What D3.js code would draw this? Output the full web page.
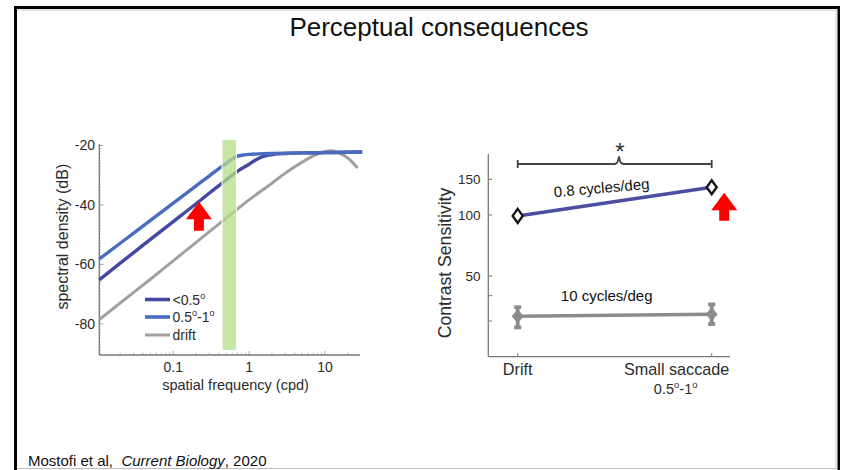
<!DOCTYPE html>
<html>
<head>
<meta charset="utf-8">
<script src="https://cdn.jsdelivr.net/npm/d3@7"></script>
<style>
  html, body { margin: 0; padding: 0; background: #fff; }
  svg { display: block; font-family: "Liberation Sans", Arial, sans-serif; }
</style>
</head>
<body>
<svg id="fig" width="846" height="470"></svg>
<script>
// ---- Spectral density panel (left) ----
const freqFast = [0.0106, 0.02, 0.05, 0.1, 0.2, 0.3, 0.4, 0.5, 0.6, 0.7, 0.85, 1, 1.5, 2, 3, 5, 10, 20, 31];
const dbFast   = [-58.2, -52.9, -45.2, -39.4, -33.6, -30.2, -27.8, -26.0, -24.6, -23.6, -23.2, -23.0, -22.8, -22.7, -22.6, -22.5, -22.4, -22.3, -22.2];
const freqSlow = [0.0106, 0.02, 0.05, 0.1, 0.2, 0.3, 0.5, 0.7, 1, 1.2, 1.5, 1.8, 2.2, 3, 5, 10, 20, 31];
const dbSlow   = [-65.2, -59.6, -51.6, -45.6, -39.6, -36.0, -31.6, -28.7, -26.3, -25.0, -23.8, -23.2, -22.9, -22.7, -22.5, -22.4, -22.3, -22.2];
const freqDrift = [0.0106, 0.02, 0.05, 0.1, 0.2, 0.3, 0.5, 0.7, 1, 1.5, 2, 3, 5, 7, 10, 12, 15, 20, 27];
const dbDrift   = [-78.6, -73.0, -65.0, -58.8, -52.6, -49.0, -44.4, -41.4, -38.3, -35.0, -32.7, -29.3, -25.6, -23.5, -22.0, -21.8, -22.4, -24.2, -27.6];
const legendLabels = ["<0.5", "0.5", "drift"];
const dbTicks = [-20, -40, -60, -80];
const freqTicks = [0.1, 1, 10];
const bandRange = [0.44, 0.68];          // highlighted frequency band (cpd)

// ---- Contrast sensitivity panel (right) ----
const conditions = ["Drift", "Small saccade"];
const sensLow  = [99, 137];               // 0.8 cycles/deg
const sensHigh = [31.7, 32.4];            // 10 cycles/deg
const sensHighLo = [27.9, 29.0];
const sensHighHi = [35.1, 36.2];
const csTicks = [30, 40, 50, 100, 150];
const csLabels = [50, 100, 150];

const svg = d3.select("#fig");
const TXT = "#2b2b2b";

// page frame
svg.append("rect").attr("x", 14).attr("y", 6).attr("width", 3).attr("height", 464).attr("fill", "#000");
svg.append("rect").attr("x", 14).attr("y", 6).attr("width", 826).attr("height", 3).attr("fill", "#000");
svg.append("rect").attr("x", 837.5).attr("y", 6).attr("width", 2.5).attr("height", 464).attr("fill", "#000");
svg.append("line").attr("x1", 17).attr("x2", 837).attr("y1", 10).attr("y2", 10).attr("stroke", "#d0d0d0");
svg.append("line").attr("x1", 836).attr("x2", 836).attr("y1", 10).attr("y2", 469).attr("stroke", "#d0d0d0");
svg.append("line").attr("x1", 17).attr("x2", 837).attr("y1", 468.5).attr("y2", 468.5).attr("stroke", "#bdbdbd");

// title
svg.append("text").attr("x", 439).attr("y", 36).attr("text-anchor", "middle")
  .attr("font-size", 26).attr("fill", "#111").text("Perceptual consequences");

// citation
const cite = svg.append("text").attr("x", 28).attr("y", 466).attr("font-size", 15).attr("fill", "#111")
  .style("white-space", "pre");
cite.append("tspan").text("Mostofi et al,  ");
cite.append("tspan").attr("font-style", "italic").text("Current Biology");
cite.append("tspan").text(", 2020");

function upArrow(g, cx, tipY, totalH) {
  const headW = 26, headH = 17.5, shaftW = 10;
  const pts = [
    [cx, tipY], [cx + headW / 2, tipY + headH], [cx + shaftW / 2, tipY + headH],
    [cx + shaftW / 2, tipY + totalH], [cx - shaftW / 2, tipY + totalH],
    [cx - shaftW / 2, tipY + headH], [cx - headW / 2, tipY + headH]
  ];
  g.append("path").attr("d", d3.line()(pts) + "Z").attr("fill", "#ff0000");
}

// ================= left panel =================
const xL = d3.scaleLog().domain([0.0106, 29]).range([99.3, 360]);
const yL = d3.scaleLinear().domain([-90.5, -19.5]).range([355, 144]);
const L = svg.append("g");
const axisCol = "#777";

// minor ticks on dB axis
L.append("g").selectAll("line").data(d3.range(-90, -19, 1)).join("line")
  .attr("x1", xL.range()[0]).attr("x2", xL.range()[0] + 1.8)
  .attr("y1", d => yL(d)).attr("y2", d => yL(d))
  .attr("stroke", "#b5b5b5").attr("stroke-width", 0.7);
// minor ticks on frequency axis
const minorF = [];
[0.01, 0.1, 1, 10].forEach(dec => d3.range(1, 10).forEach(k => {
  const v = dec * k;
  if (v >= xL.domain()[0] && v <= xL.domain()[1]) minorF.push(v);
}));
L.append("g").selectAll("line").data(minorF).join("line")
  .attr("x1", d => xL(d)).attr("x2", d => xL(d))
  .attr("y1", yL.range()[0]).attr("y2", d => yL.range()[0] - (freqTicks.includes(d) ? 4 : 2.2))
  .attr("stroke", "#999").attr("stroke-width", 0.8);
L.append("g").selectAll("line").data(dbTicks).join("line")
  .attr("x1", xL.range()[0]).attr("x2", xL.range()[0] + 4)
  .attr("y1", d => yL(d)).attr("y2", d => yL(d))
  .attr("stroke", "#888").attr("stroke-width", 0.8);

L.append("line").attr("x1", xL.range()[0]).attr("x2", xL.range()[0])
  .attr("y1", yL.range()[1]).attr("y2", yL.range()[0]).attr("stroke", axisCol).attr("stroke-width", 1.3);
L.append("line").attr("x1", xL.range()[0]).attr("x2", xL.range()[1])
  .attr("y1", yL.range()[0]).attr("y2", yL.range()[0]).attr("stroke", axisCol).attr("stroke-width", 1.3);

L.append("g").selectAll("text").data(dbTicks).join("text")
  .attr("x", 95).attr("y", d => yL(d) + 5).attr("text-anchor", "end")
  .attr("font-size", 14).attr("fill", TXT).text(d => d);
L.append("g").selectAll("text").data(freqTicks).join("text")
  .attr("x", d => xL(d)).attr("y", 372).attr("text-anchor", "middle")
  .attr("font-size", 14).attr("fill", TXT).text(d => d);

L.append("text").attr("x", 235.5).attr("y", 390).attr("text-anchor", "middle")
  .attr("font-size", 14.5).attr("fill", TXT).text("spatial frequency (cpd)");
L.append("text").attr("transform", "translate(68,236.7) rotate(-90)").attr("text-anchor", "middle")
  .attr("font-size", 16).attr("fill", TXT).text("spectral density (dB)");

const colFast = "#4a6cc0", colSlow = "#4349a2", colDrift = "#a0a0a0";
const lineL = d3.line().x(d => xL(d[0])).y(d => yL(d[1])).curve(d3.curveMonotoneX);
L.append("path").datum(d3.zip(freqDrift, dbDrift)).attr("d", lineL)
  .attr("fill", "none").attr("stroke", colDrift).attr("stroke-width", 3);
L.append("path").datum(d3.zip(freqSlow, dbSlow)).attr("d", lineL)
  .attr("fill", "none").attr("stroke", colSlow).attr("stroke-width", 3.4);
L.append("path").datum(d3.zip(freqFast, dbFast)).attr("d", lineL)
  .attr("fill", "none").attr("stroke", colFast).attr("stroke-width", 3.4);

// highlighted band
L.append("rect").attr("x", xL(bandRange[0])).attr("width", xL(bandRange[1]) - xL(bandRange[0]))
  .attr("y", 139.5).attr("height", 211)
  .attr("fill", "#b3de88").attr("fill-opacity", 0.75).attr("stroke", "#fff").attr("stroke-width", 1);

// legend
const legCols = [colSlow, colFast, colDrift];
const legY = [299.5, 317, 335];
legendLabels.forEach((lab, i) => {
  L.append("line").attr("x1", 145).attr("x2", 170).attr("y1", legY[i]).attr("y2", legY[i])
    .attr("stroke", legCols[i]).attr("stroke-width", i < 2 ? 3.6 : 3);
  const t = L.append("text").attr("x", 172.5).attr("y", legY[i] + 5)
    .attr("font-size", 14).attr("fill", TXT);
  if (i === 0) {
    t.append("tspan").text(lab);
    t.append("tspan").attr("font-size", 9).attr("dy", -6).text("o");
  } else if (i === 1) {
    t.append("tspan").text(lab);
    t.append("tspan").attr("font-size", 9).attr("dy", -6).text("o");
    t.append("tspan").attr("dy", 6).text("-1");
    t.append("tspan").attr("font-size", 9).attr("dy", -6).text("o");
  } else {
    t.text(lab);
  }
});

upArrow(L, xL(0.218), yL(-38.9), yL(-48.7) - yL(-38.9));

// ================= right panel =================
const xR = d3.scalePoint().domain(conditions).range([517.7, 711.7]);
const yR = d3.scaleLog().domain([20, 200]).range([356.7, 154]);
const R = svg.append("g");
const x0 = 488.3, x1 = 730;

R.append("line").attr("x1", x0).attr("x2", x0).attr("y1", yR.range()[1]).attr("y2", yR.range()[0])
  .attr("stroke", axisCol).attr("stroke-width", 1.3);
R.append("line").attr("x1", x0).attr("x2", x1).attr("y1", yR.range()[0]).attr("y2", yR.range()[0])
  .attr("stroke", axisCol).attr("stroke-width", 1.3);
R.append("g").selectAll("line").data(csTicks).join("line")
  .attr("x1", x0).attr("x2", x0 + 4).attr("y1", d => yR(d)).attr("y2", d => yR(d))
  .attr("stroke", axisCol).attr("stroke-width", 1);
R.append("g").selectAll("line").data(conditions).join("line")
  .attr("x1", d => xR(d)).attr("x2", d => xR(d)).attr("y1", yR.range()[0]).attr("y2", yR.range()[0] - 3.5)
  .attr("stroke", axisCol).attr("stroke-width", 1);
R.append("g").selectAll("text").data(csLabels).join("text")
  .attr("x", 480.5).attr("y", d => yR(d) + 5).attr("text-anchor", "end")
  .attr("font-size", 13.5).attr("fill", TXT).text(d => d);

R.append("text").attr("transform", "translate(450.5,263) rotate(-90)").attr("text-anchor", "middle")
  .attr("font-size", 17.6).attr("fill", TXT).text("Contrast Sensitivity");

R.append("text").attr("x", xR("Drift")).attr("y", 375).attr("text-anchor", "middle")
  .attr("font-size", 16.2).attr("fill", TXT).text("Drift");
R.append("text").attr("x", xR("Small saccade") - 35).attr("y", 375).attr("text-anchor", "middle")
  .attr("font-size", 16.2).attr("fill", TXT).text("Small saccade");
const amp = R.append("text").attr("x", xR("Small saccade") - 36).attr("y", 393.5).attr("text-anchor", "middle")
  .attr("font-size", 14.5).attr("fill", TXT);
amp.append("tspan").text("0.5");
amp.append("tspan").attr("font-size", 9.5).attr("dy", -6).text("o");
amp.append("tspan").attr("dy", 6).text("-1");
amp.append("tspan").attr("font-size", 9.5).attr("dy", -6).text("o");

// significance bracket
const bY = 164, mid = 619;
const bx0 = xR("Drift"), bx1 = xR("Small saccade");
R.append("path")
  .attr("d", `M${bx0},${bY - 4}V${bY + 4}M${bx0},${bY}H${mid - 5}Q${mid - 1.5},${bY} ${mid - 0.8},${bY - 4}L${mid},${bY - 7.5}L${mid + 0.8},${bY - 4}Q${mid + 1.5},${bY} ${mid + 5},${bY}H${bx1}M${bx1},${bY - 4}V${bY + 4}`)
  .attr("fill", "none").attr("stroke", "#444").attr("stroke-width", 1.8);
R.append("text").attr("x", mid + 1).attr("y", 160).attr("text-anchor", "middle")
  .attr("font-size", 24).attr("fill", "#333").text("*");

const lineR = d3.line().x(d => xR(d[0])).y(d => yR(d[1]));
const diamond = (cx, cy, w, h) => `M${cx},${cy - h}L${cx + w},${cy}L${cx},${cy + h}L${cx - w},${cy}Z`;

// 10 cycles/deg
const gray = "#8c8c8c";
R.append("path").datum(d3.zip(conditions, sensHigh)).attr("d", lineR)
  .attr("fill", "none").attr("stroke", gray).attr("stroke-width", 3.5);
conditions.forEach((c, i) => {
  const cx = xR(c);
  R.append("path").attr("d", `M${cx},${yR(sensHighLo[i])}V${yR(sensHighHi[i])}M${cx - 3.5},${yR(sensHighLo[i])}H${cx + 3.5}M${cx - 3.5},${yR(sensHighHi[i])}H${cx + 3.5}`)
    .attr("stroke", gray).attr("stroke-width", 3.8).attr("fill", "none");
  R.append("path").attr("d", diamond(cx, yR(sensHigh[i]), 6, 7)).attr("fill", gray);
});
R.append("text").attr("x", 606.7).attr("y", 300.7).attr("text-anchor", "middle")
  .attr("font-size", 15).attr("fill", "#111").text("10 cycles/deg");

// 0.8 cycles/deg
R.append("path").datum(d3.zip(conditions, sensLow)).attr("d", lineR)
  .attr("fill", "none").attr("stroke", "#4a4f9f").attr("stroke-width", 3.5);
conditions.forEach((c, i) => {
  R.append("path").attr("d", diamond(xR(c), yR(sensLow[i]), 5, 7))
    .attr("fill", "#fff").attr("stroke", "#151515").attr("stroke-width", 2.4);
});
R.append("text").attr("x", 602).attr("y", 193).attr("text-anchor", "middle")
  .attr("transform", "rotate(-5,602,193)")
  .attr("font-size", 15).attr("fill", "#111").text("0.8 cycles/deg");

upArrow(R, xR("Small saccade") + 12.5, yR(128.9), yR(93.7) - yR(128.9));
</script>
</body>
</html>
